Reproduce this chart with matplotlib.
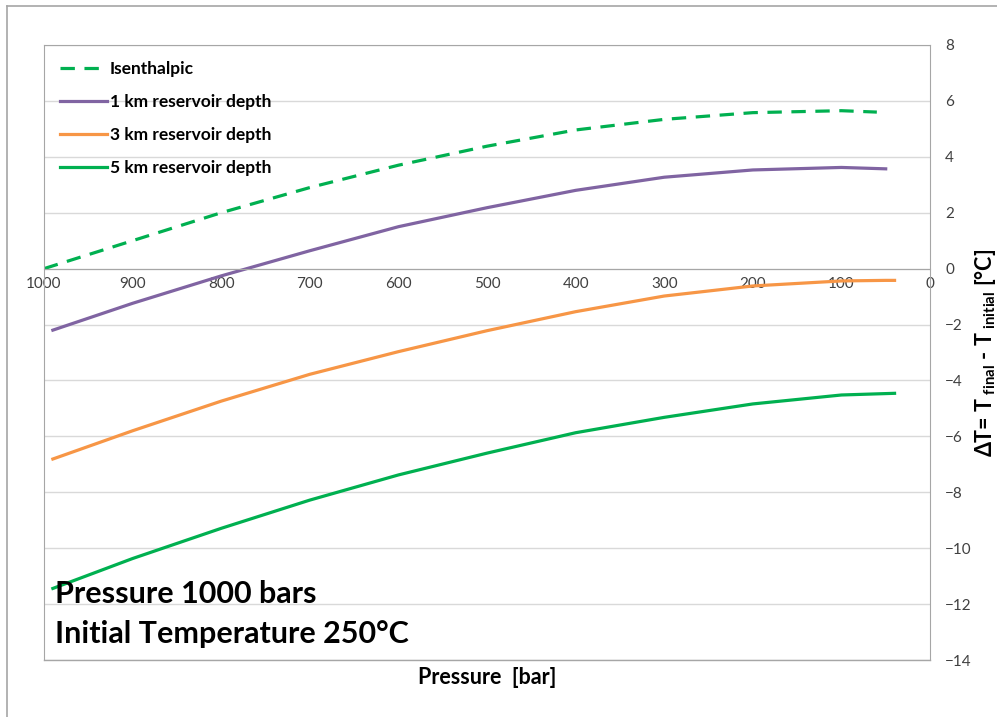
import matplotlib
matplotlib.use('Agg')
import matplotlib.pyplot as plt
from matplotlib.lines import Line2D

plt.rcParams['font.family'] = ['Lato', 'DejaVu Sans']
plt.rcParams['mathtext.fontset'] = 'custom'
plt.rcParams['mathtext.rm'] = 'Lato:bold'
plt.rcParams['mathtext.it'] = 'Lato:bold'
plt.rcParams['mathtext.bf'] = 'Lato:bold'

# values
p_isen = [1000, 900, 800, 700, 600, 500, 400, 300, 200, 100, 60]
dt_isen = [0.0, 1.0, 2.0, 2.9, 3.7, 4.38, 4.96, 5.34, 5.58, 5.65, 5.6]

p_res = [990, 900, 800, 700, 600, 500, 400, 300, 200, 100, 50, 40]
dt_1km = [-2.2, -1.24, -0.26, 0.64, 1.5, 2.18, 2.8, 3.27, 3.53, 3.62, 3.57, None]
dt_3km = [-6.81, -5.8, -4.74, -3.78, -2.97, -2.22, -1.54, -0.98, -0.62, -0.44, -0.42, -0.42]
dt_5km = [-11.44, -10.37, -9.29, -8.28, -7.38, -6.6, -5.87, -5.32, -4.84, -4.52, -4.47, -4.46]

labels = ['Isenthalpic', '1 km reservoir depth', '3 km reservoir depth', '5 km reservoir depth']
colors = ['#00B050', '#8064A2', '#F79646', '#00B050']

fig = plt.figure(figsize=(9.97, 7.17), dpi=100)
ax = fig.add_axes([44/997, 1-660/717, (930-44)/997, (660-45)/717])

ax.plot(p_isen, dt_isen, color=colors[0], lw=2.3, dashes=(4.5, 3), label=labels[0])
ax.plot(p_res[:-1], dt_1km[:-1], color=colors[1], lw=2.3, label=labels[1])
ax.plot(p_res, dt_3km, color=colors[2], lw=2.3, label=labels[2])
ax.plot(p_res, dt_5km, color=colors[3], lw=2.3, label=labels[3])

ax.set_xlim(1000, 0)
ax.set_ylim(-14, 8)
ax.set_yticks(range(-14, 9, 2))
ax.set_xticks(range(1000, -1, -100))
ax.yaxis.tick_right()
ax.tick_params(axis='both', length=0, labelsize=11, colors='#404040')
ax.tick_params(axis='y', pad=11)
ax.tick_params(axis='x', pad=6)
ax.grid(axis='y', color='#D9D9D9', lw=1)
ax.set_axisbelow(True)

for s in ['left', 'right', 'top']:
    ax.spines[s].set_color('#A6A6A6')
ax.spines['bottom'].set_position(('data', 0))
ax.spines['bottom'].set_color('#A6A6A6')
# keep frame at bottom of plot area
ax.add_line(Line2D([0, 1], [0, 0], transform=ax.transAxes, color='#A6A6A6', lw=1, clip_on=False))

leg = ax.legend(loc='upper left', frameon=False, handlelength=2.7,
                labelspacing=0.98, borderaxespad=0.5, handletextpad=0.2,
                prop={'weight': 'bold', 'size': 12.5})

ax.text(0.012, 0.107, 'Pressure 1000 bars', transform=ax.transAxes,
        fontsize=22, fontweight='bold', va='center')
ax.text(0.012, 0.043, 'Initial Temperature 250°C', transform=ax.transAxes,
        fontsize=22, fontweight='bold', va='center')

fig.text(487/997, 1-678/717, 'Pressure  [bar]', ha='center', va='center',
         fontsize=15.5, fontweight='bold')
fig.text(985/997, 1-353/717, r'ΔT= T$_{\ \mathrm{final}}$ - T$_{\ \mathrm{initial}}$ [°C]',
         rotation=90, ha='center', va='center', fontsize=15.5, fontweight='bold')

# outer chart border
fig.add_artist(Line2D([7/997, 7/997], [0, 1-6/717], color='#A6A6A6', lw=1.2))
fig.add_artist(Line2D([7/997, 1], [1-6/717, 1-6/717], color='#A6A6A6', lw=1.2))

fig.savefig('out.png', dpi=100)
